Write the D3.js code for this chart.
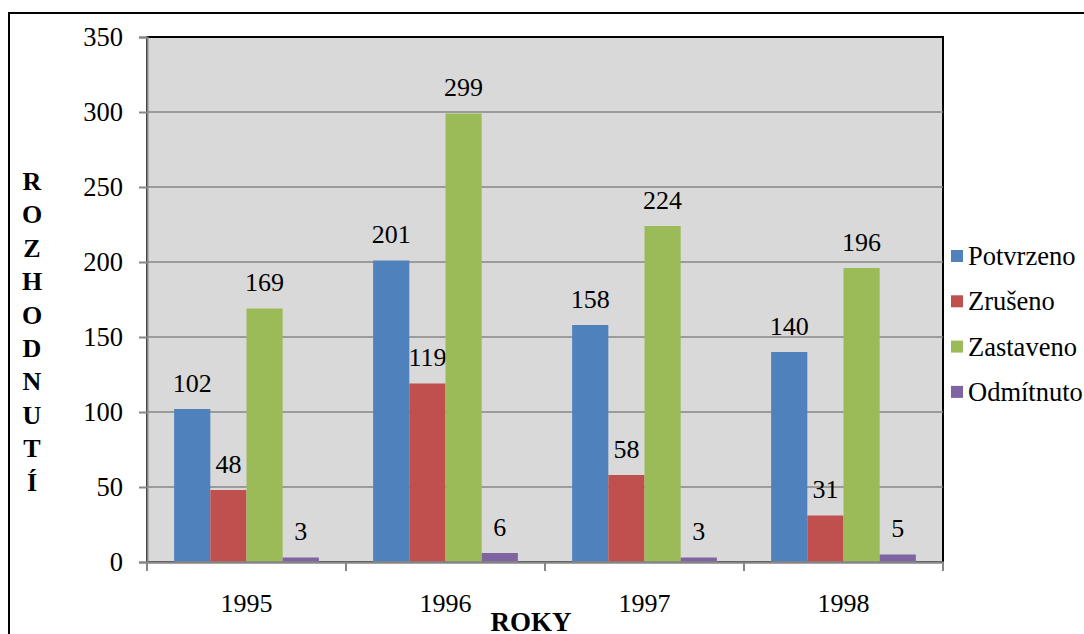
<!DOCTYPE html>
<html><head><meta charset="utf-8">
<script src="https://cdn.jsdelivr.net/npm/d3@7"></script>
<style>body{margin:0;background:#fff}svg{display:block}</style>
</head><body><svg id="c" width="1084" height="634"></svg>
<script>
const categories = ["1995","1996","1997","1998"];
const seriesNames = ["Potvrzeno","Zrušeno","Zastaveno","Odmítnuto"];
const potvrzeno = [102,201,158,140];
const zruseno = [48,119,58,31];
const zastaveno = [169,299,224,196];
const odmitnuto = [3,6,3,5];
const yTicks = [0,50,100,150,200,250,300,350];
const colors = ["#4f81bd","#c0504d","#9bbb59","#8064a2"];
const seriesValues = [potvrzeno, zruseno, zastaveno, odmitnuto];
const FONT = "Liberation Serif";

const svg = d3.select("#c");
svg.append("rect").attr("x",9).attr("y",13).attr("width",1090).attr("height",640)
  .attr("fill","none").attr("stroke","#000").attr("stroke-width",2);

const L=147, R=943, T=37, B=562;
const x0 = d3.scaleBand().domain(categories).range([L,R]).paddingInner(0).paddingOuter(0);
const bw = x0.bandwidth()/5.5;
const x1 = d3.scaleBand().domain(seriesNames).range([0.75*bw, x0.bandwidth()-0.75*bw]).padding(0);
const y = d3.scaleLinear().domain([0,350]).range([B,T]);

svg.append("rect").attr("x",L).attr("y",T).attr("width",R-L).attr("height",B-T)
  .attr("fill","#d9d9d9").attr("stroke","#000").attr("stroke-width",2);

svg.append("g").selectAll("line").data(yTicks.filter(d=>d>0 && d<350)).join("line")
  .attr("x1",L).attr("x2",R).attr("y1",d=>y(d)).attr("y2",d=>y(d))
  .attr("stroke","#868686").attr("stroke-width",1.5);

const g = svg.append("g");
seriesNames.forEach((s,i)=>{
  g.selectAll(null).data(categories).join("rect")
    .attr("x",c=>x0(c)+x1(s)).attr("width",x1.bandwidth())
    .attr("y",(c,j)=>y(seriesValues[i][j])).attr("height",(c,j)=>B-y(seriesValues[i][j]))
    .attr("fill",colors[i]);
  g.selectAll(null).data(categories).join("text")
    .attr("x",c=>x0(c)+x1(s)+x1.bandwidth()/2)
    .attr("y",(c,j)=>y(seriesValues[i][j])-17.5)
    .attr("text-anchor","middle").attr("font-size",26).attr("font-family",FONT).attr("fill","#000")
    .text((c,j)=>seriesValues[i][j]);
});

const ya = svg.append("g").attr("transform",`translate(${L},0)`)
  .call(d3.axisLeft(y).tickValues(yTicks).tickSize(8).tickPadding(16));
ya.attr("font-family",FONT).attr("font-size",26.5);
ya.select(".domain").attr("stroke","#868686").attr("stroke-width",2);
ya.selectAll(".tick line").attr("stroke","#868686").attr("stroke-width",2);
ya.selectAll(".tick text").attr("fill","#000");

const xa = svg.append("g").attr("transform",`translate(0,${B})`)
  .call(d3.axisBottom(x0).tickSize(0).tickPadding(31.5));
xa.attr("font-family",FONT).attr("font-size",26);
xa.select(".domain").attr("stroke","#868686").attr("stroke-width",2.5);
xa.selectAll(".tick text").attr("fill","#000");
svg.append("g").selectAll("line").data(categories.concat(["end"])).join("line")
  .attr("x1",(d,i)=>L+i*x0.bandwidth()).attr("x2",(d,i)=>L+i*x0.bandwidth())
  .attr("y1",B).attr("y2",B+9).attr("stroke","#868686").attr("stroke-width",2);

svg.append("text").attr("x",531).attr("y",631).attr("text-anchor","middle").attr("font-family",FONT)
  .attr("font-size",27).attr("font-weight","bold").text("ROKY");
const yt = svg.append("text").attr("font-size",26).attr("font-weight","bold").attr("font-family",FONT).attr("text-anchor","middle");
Array.from("ROZHODNUTÍ").forEach((ch,i)=>{
  yt.append("tspan").attr("x",32).attr("y",190+i*33.4).text(ch);
});

const lg = svg.append("g");
seriesNames.forEach((s,i)=>{
  const yy = 265 + i*45.3;
  lg.append("rect").attr("x",951).attr("y",yy-15).attr("width",12).attr("height",12).attr("fill",colors[i]);
  lg.append("text").attr("x",968).attr("y",yy).attr("font-size",26.5).attr("font-family",FONT).text(s);
});
</script></body></html>
